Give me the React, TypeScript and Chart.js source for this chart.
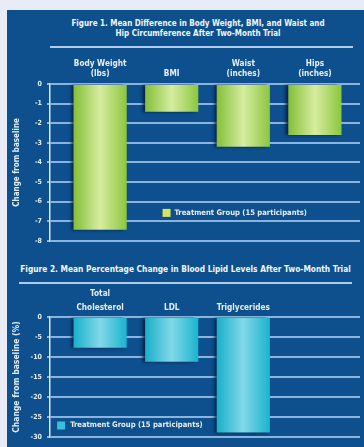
import React, { useEffect, useRef } from 'react';
import { Chart, registerables } from 'chart.js';

Chart.register(...registerables);

// ---------- data ----------
const fig1Title = ['Figure 1. Mean Difference in Body Weight, BMI, and Waist and', 'Hip Circumference After Two-Month Trial'];
const fig1Categories: (string | string[])[] = [['Body Weight', '(lbs)'], 'BMI', ['Waist', '(inches)'], ['Hips', '(inches)']];
const fig1Values = [-7.43, -1.42, -3.2, -2.6];
const fig1YTitle = 'Change from baseline';
const fig1YMin = -8;
const fig1YMax = 0;
const fig1YStep = 1;

const fig2Title = 'Figure 2. Mean Percentage Change in Blood Lipid Levels After Two-Month Trial';
const fig2Categories: (string | string[])[] = [['Total', 'Cholesterol'], 'LDL', 'Triglycerides'];
const fig2Values = [-7.7, -11.2, -28.9];
const fig2YTitle = 'Change from baseline (%)';
const fig2YMin = -30;
const fig2YMax = 0;
const fig2YStep = 5;

const seriesLabel = 'Treatment Group (15 participants)';

// ---------- style ----------
const FONT = "'Liberation Sans Narrow', 'DejaVu Sans Condensed', 'Arial Narrow', sans-serif";
const TEXT = '#e6eef7';
const PANEL = '#0e4f8d';
const GRID = '#8bb4dc';
const BAR_PCT = 0.743;
// category axis window (in category-index units), so bars sit inset from the grid ends
const X_MIN = -0.7;
const X_MAX = 3.63;

const gradientFill = (stops: [number, string][]) => (ctx: any) => {
  const chart = ctx.chart;
  const xs = chart.scales && chart.scales.x;
  if (!xs || !chart.chartArea || ctx.type !== 'data') return stops[0][1];
  const center = xs.getPixelForValue(ctx.dataIndex);
  const w = Math.abs(xs.getPixelForValue(1) - xs.getPixelForValue(0)) * BAR_PCT;
  if (!isFinite(center) || !isFinite(w) || w <= 0) return stops[0][1];
  const g = chart.ctx.createLinearGradient(center - w / 2, 0, center + w / 2, 0);
  stops.forEach(([o, c]) => g.addColorStop(o, c));
  return g;
};

const barShadow = {
  id: 'barShadow',
  beforeDatasetsDraw(chart: any) {
    const c = chart.ctx;
    c.save();
    c.shadowColor = 'rgba(4, 24, 58, 0.8)';
    c.shadowOffsetX = -3;
    c.shadowOffsetY = 0;
    c.shadowBlur = 3;
  },
  afterDatasetsDraw(chart: any) {
    chart.ctx.restore();
  },
};

const insideLegend = {
  id: 'insideLegend',
  afterDraw(chart: any, _args: any, opts: any) {
    const { ctx, chartArea } = chart;
    const x = chartArea.left + opts.xFrac * chartArea.width;
    const y = chartArea.top + opts.yFrac * chartArea.height;
    ctx.save();
    ctx.fillStyle = opts.boxColor;
    ctx.fillRect(x, y - 4, 8, 8);
    ctx.font = `bold 7.6px ${FONT}`;
    ctx.fillStyle = TEXT;
    ctx.textBaseline = 'middle';
    ctx.textAlign = 'left';
    ctx.fillText(chart.data.datasets[0].label, x + opts.gap, y);
    ctx.restore();
  },
};

function makeConfig(p: {
  labels: (string | string[])[];
  values: number[];
  stops: [number, string][];
  yMin: number; yMax: number; yStep: number;
  yTitle: string; yTitleSize: number;
  xHeight: number; xPad: number; xLineHeight: number;
  padBottom: number;
  legend: { xFrac: number; yFrac: number; boxColor: string; gap: number };
}): any {
  const tickFont = { family: FONT, size: 7, weight: 'bold' as const };
  return {
    type: 'bar',
    data: {
      datasets: [
        {
          label: seriesLabel,
          data: p.values.map((v, i) => ({ x: i, y: v })),
          backgroundColor: gradientFill(p.stops),
          borderWidth: 0,
          barPercentage: BAR_PCT,
          categoryPercentage: 1,
        },
      ],
    },
    options: {
      responsive: false,
      animation: false,
      layout: { padding: { left: 0, right: 4, top: 0, bottom: p.padBottom } },
      plugins: {
        legend: { display: false },
        tooltip: { enabled: false },
        title: { display: false },
        insideLegend: p.legend,
      },
      scales: {
        x: {
          type: 'linear',
          position: 'top',
          min: X_MIN,
          max: X_MAX,
          offset: false,
          grid: { display: false, drawTicks: false, tickLength: 0 },
          border: { display: false },
          ticks: {
            stepSize: 1,
            includeBounds: false,
            color: TEXT,
            font: { family: FONT, size: 8.2, weight: 'bold', lineHeight: p.xLineHeight },
            padding: p.xPad,
            maxRotation: 0,
            autoSkip: false,
            callback: (value: number) => {
              const i = Math.round(value);
              if (Math.abs(value - i) > 1e-6) return '';
              return p.labels[i] !== undefined ? p.labels[i] : '';
            },
          },
          afterFit(s: any) { s.height = p.xHeight; },
        },
        y: {
          min: p.yMin,
          max: p.yMax,
          ticks: { stepSize: p.yStep, color: TEXT, font: tickFont, padding: 5 },
          grid: { color: GRID, lineWidth: 2, tickLength: 3 },
          border: { color: '#dce8f4', width: 1.5 },
          title: {
            display: true,
            text: p.yTitle,
            color: TEXT,
            font: { family: FONT, size: p.yTitleSize, weight: 'bold' },
            padding: { top: 5, bottom: 0 },
          },
          afterFit(s: any) { s.width = 43; },
        },
      },
    },
    plugins: [barShadow, insideLegend],
  };
}

function BarCanvas({ config, width, height }: { config: any; width: number; height: number }) {
  const ref = useRef<HTMLCanvasElement | null>(null);
  useEffect(() => {
    if (!ref.current) return;
    const chart = new Chart(ref.current, config);
    return () => chart.destroy();
  }, [config]);
  return <canvas ref={ref} width={width} height={height} style={{ display: 'block', width, height }} />;
}

const cfg1 = makeConfig({
  labels: fig1Categories,
  values: fig1Values,
  stops: [[0, '#84bf38'], [0.5, '#d6eda0'], [1, '#8cc63e']],
  yMin: fig1YMin, yMax: fig1YMax, yStep: fig1YStep,
  yTitle: fig1YTitle, yTitleSize: 8,
  xHeight: 34, xPad: 5, xLineHeight: 1.22,
  padBottom: 6,
  legend: { xFrac: 0.363, yFrac: 0.822, boxColor: '#d8e65c', gap: 12 },
});

const cfg2 = makeConfig({
  labels: fig2Categories,
  values: fig2Values,
  stops: [[0, '#18b0ca'], [0.5, '#82d8e8'], [1, '#1ab4ce']],
  yMin: fig2YMin, yMax: fig2YMax, yStep: fig2YStep,
  yTitle: fig2YTitle, yTitleSize: 8.5,
  xHeight: 31, xPad: 2, xLineHeight: 1.75,
  padBottom: 10,
  legend: { xFrac: 0.023, yFrac: 0.904, boxColor: '#3cc0da', gap: 13 },
});

export default function App() {
  const titleStyle: React.CSSProperties = {
    position: 'absolute',
    color: '#f2f6fb',
    fontFamily: FONT,
    fontWeight: 'bold',
    fontSize: 8,
    lineHeight: '10px',
    textAlign: 'center',
    whiteSpace: 'nowrap',
  };
  return (
    <div style={{ position: 'relative', width: 364, height: 447, background: '#e9ecf7', overflow: 'hidden' }}>
      <style>{`body{margin:0}`}</style>
      <div style={{ position: 'absolute', left: 7, top: 10, width: 357, height: 437, background: PANEL }} />
      <div style={{ ...titleStyle, left: 45, top: 19, width: 306 }}>
        {fig1Title[0]}
        <br />
        {fig1Title[1]}
      </div>
      <div style={{ position: 'absolute', left: 50, top: 46, width: 303, height: 2, background: '#b0cce8' }} />
      <div style={{ position: 'absolute', left: 7, top: 50 }}>
        <BarCanvas config={cfg1} width={357} height={200} />
      </div>
      <div style={{ ...titleStyle, fontSize: 8.3, left: 7, top: 264, width: 357 }}>{fig2Title}</div>
      <div style={{ position: 'absolute', left: 19, top: 282, width: 333, height: 2, background: '#b0cce8' }} />
      <div style={{ position: 'absolute', left: 7, top: 286 }}>
        <BarCanvas config={cfg2} width={357} height={161} />
      </div>
    </div>
  );
}
